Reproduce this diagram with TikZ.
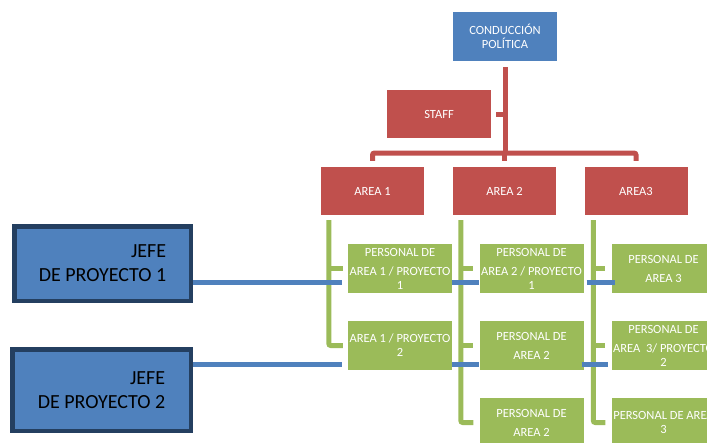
\documentclass[tikz,border=0pt]{standalone}
\usepackage{fontspec}
\setmainfont{Carlito}
\definecolor{cblue}{HTML}{4F81BD}
\definecolor{cred}{HTML}{C0504D}
\definecolor{cgreen}{HTML}{9BBB59}
\definecolor{cnavy}{HTML}{243F60}
\begin{document}
\begin{tikzpicture}[x=1pt,y=-1pt,
  basebox/.style={draw=none, text=white, font=\fontsize{12.5}{14}\selectfont, align=center, inner sep=0pt, minimum width=104pt, minimum height=49pt},
  bluebox/.style={basebox, fill=cblue},
  redbox/.style={basebox, fill=cred},
  greenbox/.style={basebox, fill=cgreen},
  jefebox/.style={fill=cblue, draw=cnavy, line width=4.5pt, text=black, font=\fontsize{20}{24}\selectfont, align=right, inner sep=0pt},
  redline/.style={draw=cred, line width=5pt},
  greenline/.style={draw=cgreen, line width=5pt},
  blueline/.style={draw=cblue, line width=5pt}
]
\useasboundingbox (0,0) rectangle (707,442);
\clip (0,0) rectangle (707,442);

% nodes
\node[bluebox] (cp) at (505,36.5) {CONDUCCIÓN\\POLÍTICA};
\node[redbox, minimum height=48pt] (st) at (439,114) {STAFF};
\node[redbox, minimum width=103pt, minimum height=48pt] (a1) at (372.5,191) {AREA 1};
\node[redbox, minimum width=103pt, minimum height=48pt] (a2) at (504.5,191) {AREA 2};
\node[redbox, minimum width=103pt, minimum height=48pt] (a3) at (636,191) {AREA3};

\node[greenbox] (p11) at (400,268.5) {PERSONAL DE\\[5pt]AREA 1 / PROYECTO\\1};
\node[greenbox] (p12) at (400,345.5) {AREA 1 / PROYECTO\\2};
\node[greenbox] (p21) at (531.5,268.5) {PERSONAL DE\\[5pt]AREA 2 / PROYECTO\\1};
\node[greenbox] (p22) at (531.5,345.5) {PERSONAL DE\\[5pt]AREA 2};
\node[greenbox] (p23) at (531.5,422.5) {PERSONAL DE\\[5pt]AREA 2};
\node[greenbox] (p31) at (663.5,268.5) {PERSONAL DE\\[5pt]AREA 3};
\node[greenbox] (p32) at (663.5,345.5) {PERSONAL DE\\[5pt]AREA~~3/ PROYECTO\\2};
\node[greenbox] (p33) at (663.5,422.5) {PERSONAL DE AREA\\3};

\node[jefebox, minimum width=176.5pt, minimum height=74.5pt] (j1) at (102.5,263.5) {JEFE\\DE PROYECTO 1};
\node[jefebox, minimum width=178.5pt, minimum height=81.5pt] (j2) at (101.5,390) {JEFE\\DE PROYECTO 2};

% coordinates
\coordinate (bar) at (506,153);
\coordinate (b1) at (0,282);
\coordinate (b2) at (0,364);

% red connectors
\draw[redline] ([yshift=-6pt]cp.south) -- (cp.south |- bar);
\draw[redline] ([xshift=5pt]st.east) -- (st.east -| cp.south);
\draw[redline, rounded corners=2pt] ([yshift=6pt]a1.north) -- (a1.north |- bar) -- (a3.north |- bar) -- ([yshift=6pt]a3.north);
\draw[redline] ([yshift=6pt]a2.north) -- (a2.north |- bar);

% green connectors
\draw[greenline, rounded corners=2pt] ([xshift=8pt,yshift=-5pt]a1.south west) -- ([xshift=8pt]a1.south west |- p12.west) -- ([xshift=-5pt]p12.west);
\draw[greenline] ([xshift=8pt]a1.south west |- p11.west) -- ([xshift=-5pt]p11.west);
\draw[greenline, rounded corners=2pt] ([xshift=8pt,yshift=-5pt]a2.south west) -- ([xshift=8pt]a2.south west |- p23.west) -- ([xshift=-6pt]p23.west);
\draw[greenline] ([xshift=8pt]a2.south west |- p21.west) -- ([xshift=-6pt]p21.west);
\draw[greenline] ([xshift=8pt]a2.south west |- p22.west) -- ([xshift=-6pt]p22.west);
\draw[greenline, rounded corners=2pt] ([xshift=9pt,yshift=-5pt]a3.south west) -- ([xshift=9pt]a3.south west |- p33.west) -- ([xshift=-6pt]p33.west);
\draw[greenline] ([xshift=9pt]a3.south west |- p31.west) -- ([xshift=-6pt]p31.west);
\draw[greenline] ([xshift=9pt]a3.south west |- p32.west) -- ([xshift=-6pt]p32.west);

% blue connectors
\draw[blueline] (j1.east |- b1) -- ([xshift=-6pt]p11.west |- b1);
\draw[blueline] (p11.east |- b1) -- (p21.west |- b1);
\draw[blueline] ([xshift=3pt]p21.east |- b1) -- ([xshift=4pt]p31.west |- b1);
\draw[blueline] (j2.east |- b2) -- ([xshift=-6pt]p12.west |- b2);
\draw[blueline] (p12.east |- b2) -- (p22.west |- b2);
\draw[blueline] ([xshift=-2pt]p22.east |- b2) -- ([xshift=-3pt]p32.west |- b2);
\end{tikzpicture}
\end{document}
